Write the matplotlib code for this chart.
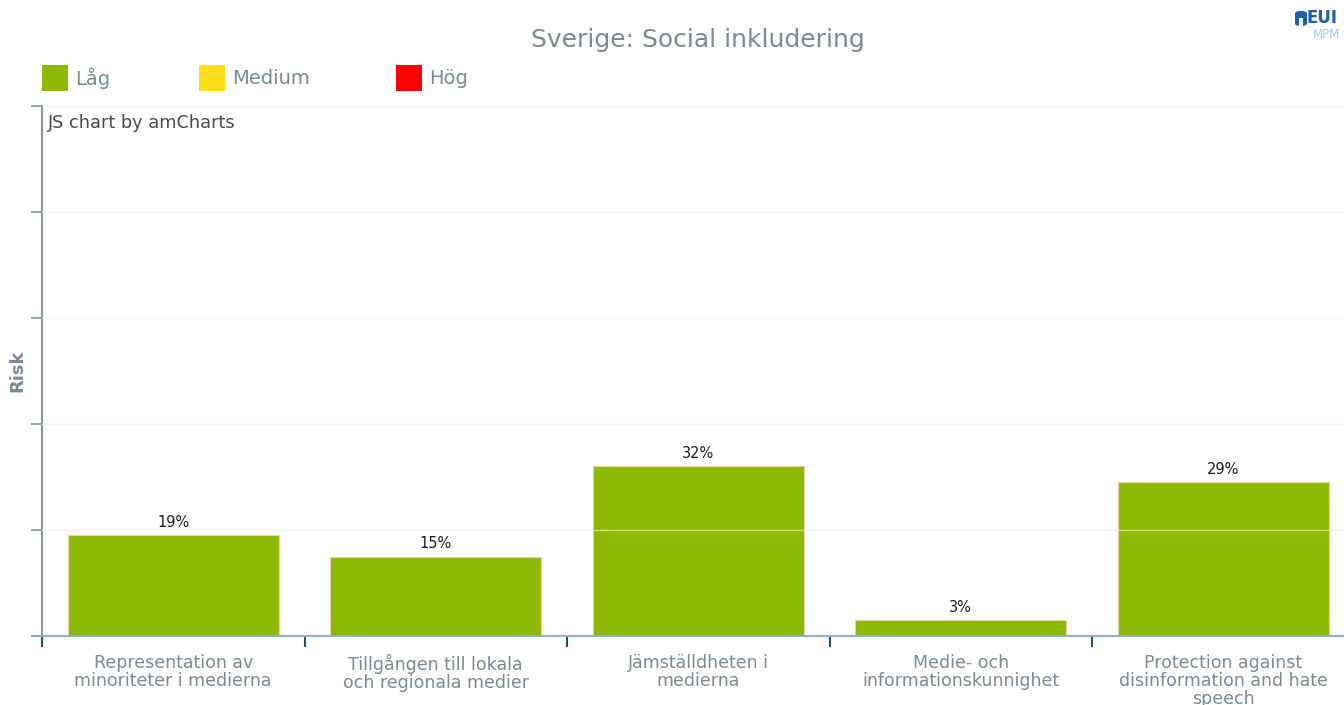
import matplotlib
matplotlib.use("Agg")
import matplotlib.pyplot as plt
from matplotlib.patches import Rectangle, FancyBboxPatch

categories = ["Representation av\nminoriteter i medierna",
              "Tillgången till lokala\noch regionala medier",
              "Jämställdheten i\nmedierna",
              "Medie- och\ninformationskunnighet",
              "Protection against\ndisinformation and hate\nspeech"]
values = [19, 15, 32, 3, 29]
value_labels = ["19%", "15%", "32%", "3%", "29%"]
legend_labels = ["Låg", "Medium", "Hög"]
legend_colors = ["#8db900", "#fedd1a", "#ff0000"]
title = "Sverige: Social inkludering"
ylabel = "Risk"

W, H = 1344, 705
fig = plt.figure(figsize=(W / 100, H / 100), dpi=100)
fig.patch.set_facecolor("white")
plt.rcParams['font.family'] = ['DejaVu Sans']

def fx(px):
    return px / W

def fy(py):
    return 1 - py / H

ax = fig.add_axes([fx(42), fy(636), fx(1312.5), (636 - 106) / H])
ax.set_xlim(-0.5, len(categories) - 0.5)
ax.set_ylim(0, 100)

for i, v in enumerate(values):
    ax.bar(i, v, width=0.805, color=legend_colors[0], edgecolor="#eecfa8",
           linewidth=0.8, zorder=2)
    ax.text(i, v + 1.0, value_labels[i], ha="center", va="bottom",
            fontsize=10.5, color="#1a1a1a", zorder=4)

for g in range(0, 101, 20):
    ax.axhline(g, color="#eeeeee", alpha=0.65, linewidth=1, zorder=3)

for s in ["top", "right"]:
    ax.spines[s].set_visible(False)
ax.spines["left"].set_color("#8a96a1")
ax.spines["left"].set_linewidth(1.5)
ax.spines["bottom"].set_color("#8fb0c8")
ax.spines["bottom"].set_linewidth(1.5)
ax.spines["bottom"].set_zorder(5)

ax.set_yticks(range(0, 101, 20))
ax.set_yticklabels([])
ax.tick_params(axis="y", length=8, width=1.2, color="#8a96a1", direction="out")
ax.set_xticks([i - 0.5 for i in range(len(categories) + 1)])
ax.set_xticklabels([])
ax.tick_params(axis="x", length=8, width=1.5, color="#1f4e79", direction="out")

for i, c in enumerate(categories):
    ax.text(i, -3.4, c, ha="center", va="top", fontsize=12.5, color="#7d8893",
            linespacing=1.0, transform=ax.transData, clip_on=False)

fig.text(fx(17), fy(371), ylabel, rotation=90, ha="center", va="center",
         fontsize=13, fontweight="bold", color="#7d8893")

fig.text(fx(698), fy(40), title, ha="center", va="center", fontsize=18, color="#7d8893")

lx = [42, 199, 396]
for x0, lab, col in zip(lx, legend_labels, legend_colors):
    fig.patches.append(Rectangle((fx(x0), fy(91)), fx(26), 26 / H, facecolor=col,
                                 edgecolor="none", transform=fig.transFigure))
    fig.text(fx(x0 + 33), fy(78), lab, ha="left", va="center", fontsize=14, color="#7d8893")

fig.text(fx(48), fy(123), "JS chart by amCharts", ha="left", va="center",
         fontsize=12.8, color="#4a4a4a")

# logo
fig.patches.append(FancyBboxPatch((fx(1295), fy(26)), fx(12), 15 / H,
                                  boxstyle="round,pad=0,rounding_size=0.004",
                                  facecolor="#1f5fa8", edgecolor="none",
                                  transform=fig.transFigure))
fig.patches.append(Rectangle((fx(1299), fy(26)), fx(4), 8 / H, facecolor="white",
                             edgecolor="none", transform=fig.transFigure))
fig.text(fx(1307), fy(18), "EUI", ha="left", va="center", fontsize=12,
         fontweight="bold", color="#1f5fa8")
fig.text(fx(1313), fy(35), "MPM", ha="left", va="center", fontsize=8.5,
         color="#a8c8e8")

fig.savefig("out.png", dpi=100, facecolor="white")
